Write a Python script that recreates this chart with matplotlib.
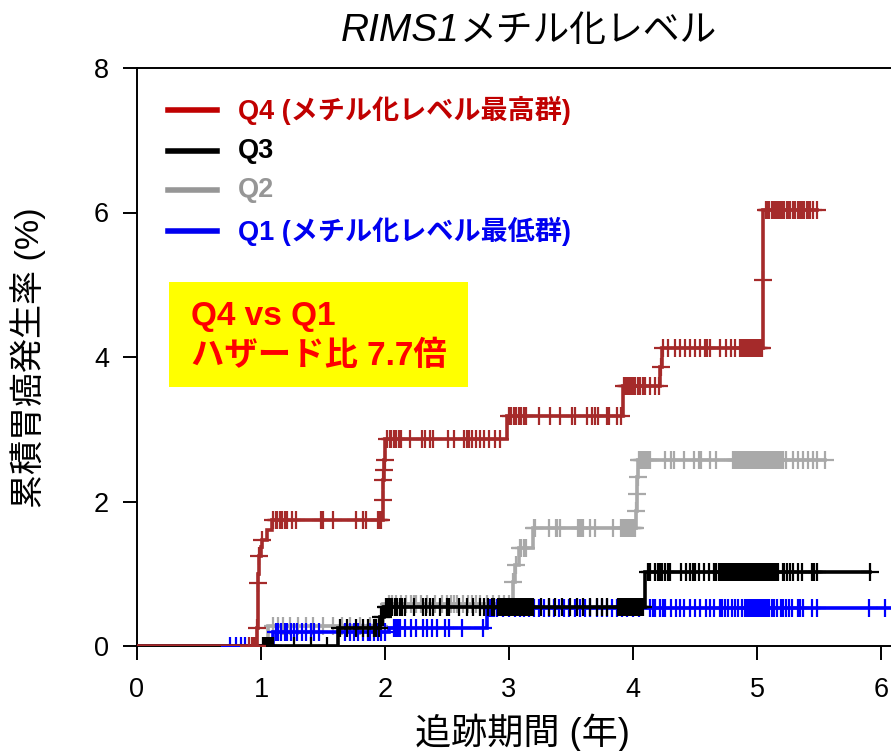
import numpy as np
import matplotlib
matplotlib.use("Agg")
import matplotlib.pyplot as plt
from matplotlib.patches import Rectangle

plt.rcParams['font.family'] = ['Liberation Sans', 'Noto Sans CJK JP', 'DejaVu Sans']

# ---------------- data ----------------
title_italic = "RIMS1"
title_rest = "メチル化レベル"
xlabel = "追跡期間 (年)"
ylabel = "累積胃癌発生率 (%)"
xticks = [0, 1, 2, 3, 4, 5, 6]
yticks = [0, 2, 4, 6, 8]
legend_labels = ["Q4 (メチル化レベル最高群)", "Q3", "Q2", "Q1 (メチル化レベル最低群)"]
box_lines = ["Q4 vs Q1", "ハザード比 7.7倍"]

# Q4 (highest)
q4_event_t = [0.970, 0.972, 0.975, 0.978, 0.980, 1.000, 1.010, 1.045, 1.090,
              1.980, 1.985, 1.990, 1.995, 2.000, 2.980, 3.920, 4.220, 4.230, 5.045, 5.050]
q4_event_y = [0.25, 0.50, 0.87, 1.00, 1.24, 1.37, 1.47, 1.60, 1.75,
              2.02, 2.30, 2.43, 2.57, 2.87, 3.18, 3.60, 3.86, 4.12, 5.07, 6.03]
q4_end = 5.48
q4_censor = [0.90, 0.925, 0.94, 0.95, 0.965, 0.971, 0.976, 0.981, 1.012,
             1.10, 1.12, 1.13, 1.15, 1.17, 1.19, 1.21, 1.25, 1.28, 1.48, 1.50, 1.58,
             1.77, 1.82, 1.85, 1.94, 1.95, 1.96, 1.97,
             1.982, 1.987, 1.992, 1.997,
             2.02, 2.04, 2.05, 2.07, 2.09, 2.11, 2.13, 2.20, 2.30, 2.32, 2.36, 2.39,
             2.51, 2.56, 2.64, 2.66, 2.68, 2.70, 2.73, 2.77, 2.80, 2.84, 2.89, 2.93,
             3.00, 3.02, 3.04, 3.06, 3.08, 3.10, 3.12, 3.14, 3.24, 3.33, 3.41, 3.51,
             3.53, 3.63, 3.67, 3.69, 3.72, 3.79, 3.81, 3.87, 3.90,
             3.93, 3.94, 3.95, 3.96, 3.97, 3.98, 3.99, 4.00, 4.01, 4.02, 4.04, 4.06,
             4.08, 4.10, 4.14, 4.18, 4.21, 4.222,
             4.24, 4.28, 4.34, 4.38, 4.42, 4.46, 4.50, 4.54, 4.58, 4.59, 4.60, 4.62,
             4.70, 4.75, 4.79, 4.82, 4.86, 4.87, 4.88, 4.89, 4.90, 4.91, 4.92, 4.93,
             4.94, 4.95, 4.96, 4.97, 4.98, 4.99, 5.00, 5.01, 5.02, 5.03, 5.04, 5.047,
             5.07, 5.08, 5.09, 5.10, 5.12, 5.14, 5.15, 5.16, 5.18, 5.19, 5.20, 5.22,
             5.24, 5.25, 5.27, 5.29, 5.31, 5.33, 5.35, 5.36, 5.38, 5.40, 5.41, 5.43,
             5.45, 5.48]

# Q3
q3_event_t = [1.62, 1.96, 1.99, 4.10]
q3_event_y = [0.25, 0.40, 0.54, 1.02]
q3_end = 5.91
q3_censor = [1.02, 1.03, 1.04, 1.05, 1.06, 1.07, 1.08, 1.10, 1.27, 1.40, 1.53,
             1.64, 1.69, 1.77, 1.82, 1.86, 1.91, 1.93, 1.95, 1.97, 1.98,
             2.01, 2.02, 2.03, 2.04, 2.05, 2.06, 2.08, 2.10, 2.12, 2.14, 2.16, 2.23,
             2.31, 2.33, 2.36, 2.39, 2.44, 2.50, 2.52, 2.60, 2.66, 2.71, 2.77, 2.80,
             2.83, 2.86, 2.88, 2.91, 2.93, 2.94, 2.95, 2.96, 2.97, 2.98, 2.99, 3.00,
             3.01, 3.02, 3.03, 3.04, 3.05, 3.06, 3.07, 3.08, 3.09, 3.10, 3.11, 3.12,
             3.13, 3.14, 3.15, 3.16, 3.17, 3.18, 3.19, 3.26, 3.32, 3.37, 3.43, 3.49,
             3.55, 3.60, 3.65, 3.71, 3.75, 3.79, 3.88, 3.89, 3.90, 3.91, 3.92, 3.93,
             3.94, 3.95, 3.96, 3.97, 3.98, 3.99, 4.00, 4.01, 4.02, 4.03, 4.04, 4.05,
             4.06, 4.07, 4.08,
             4.12, 4.14, 4.18, 4.20, 4.21, 4.22, 4.23, 4.26, 4.28, 4.30, 4.39, 4.43,
             4.46, 4.48, 4.50, 4.53, 4.57, 4.61, 4.65, 4.67, 4.69, 4.71, 4.72, 4.73,
             4.74, 4.75, 4.76, 4.77, 4.78, 4.79, 4.80, 4.81, 4.82, 4.83, 4.84, 4.85,
             4.86, 4.87, 4.88, 4.89, 4.90, 4.91, 4.92, 4.93, 4.94, 4.95, 4.96, 4.97,
             4.98, 4.99, 5.00, 5.01, 5.02, 5.03, 5.04, 5.05, 5.06, 5.07, 5.08, 5.09,
             5.10, 5.11, 5.12, 5.13, 5.14, 5.15, 5.17, 5.21, 5.22, 5.24, 5.27, 5.29,
             5.33, 5.36, 5.44, 5.45, 5.46, 5.48, 5.91]

# Q2
q2_event_t = [1.06, 1.98, 3.03, 3.05, 3.08, 3.19, 4.025, 4.03, 4.035, 4.04]
q2_event_y = [0.27, 0.58, 0.89, 1.12, 1.35, 1.63, 1.87, 2.10, 2.34, 2.57]
q2_end = 5.55
q2_censor = [1.10, 1.14, 1.18, 1.23, 1.30, 1.36, 1.42, 1.50, 1.58, 1.65, 1.72,
             1.80, 1.88, 1.95,
             2.03, 2.06, 2.09, 2.13, 2.17, 2.21, 2.23, 2.25, 2.29, 2.34, 2.40, 2.46,
             2.50, 2.53, 2.56, 2.58, 2.63, 2.67, 2.70, 2.73, 2.77, 2.82, 2.87, 2.92,
             2.96, 3.00, 3.032, 3.06, 3.09, 3.10, 3.12, 3.14,
             3.20, 3.21, 3.32, 3.38, 3.39, 3.41, 3.56, 3.57, 3.58, 3.60, 3.65, 3.69,
             3.84, 3.90, 3.91, 3.92, 3.93, 3.94, 3.95, 3.96, 3.97, 3.98, 3.99, 4.00,
             4.01, 4.02, 4.027, 4.032, 4.037,
             4.05, 4.06, 4.07, 4.08, 4.09, 4.10, 4.11, 4.12, 4.14, 4.26, 4.31, 4.33,
             4.41, 4.49, 4.53, 4.55, 4.62, 4.67, 4.81, 4.82, 4.83, 4.84, 4.85, 4.86,
             4.87, 4.88, 4.89, 4.90, 4.91, 4.92, 4.93, 4.94, 4.95, 4.96, 4.97, 4.98,
             4.99, 5.00, 5.01, 5.02, 5.03, 5.04, 5.05, 5.06, 5.07, 5.08, 5.09, 5.10,
             5.11, 5.12, 5.13, 5.14, 5.15, 5.16, 5.17, 5.18, 5.19, 5.20, 5.21, 5.23,
             5.29, 5.33, 5.37, 5.41, 5.45, 5.48, 5.55]

# Q1 (lowest)
q1_event_t = [1.10, 2.03, 2.82]
q1_event_y = [0.19, 0.25, 0.52]
q1_end = 6.15
q1_censor = [0.75, 0.80, 0.84, 0.87,
             1.12, 1.14, 1.16, 1.19, 1.21, 1.24, 1.27, 1.29, 1.33, 1.36, 1.40, 1.43,
             1.47, 1.68, 1.72, 1.75, 1.78, 1.82, 1.86, 1.88, 1.91, 1.94, 1.97, 2.00,
             2.07, 2.08, 2.09, 2.10, 2.11, 2.12, 2.16, 2.21, 2.25, 2.31, 2.34, 2.38,
             2.42, 2.48, 2.52, 2.62, 2.79,
             2.83, 2.85, 2.86, 2.88, 2.90, 2.95, 3.00, 3.05, 3.09, 3.12, 3.16, 3.20,
             3.24, 3.28, 3.32, 3.36, 3.40, 3.44, 3.48, 3.53, 3.57, 3.61, 3.65, 3.71,
             3.75, 3.79, 3.83, 3.87, 3.91, 3.95, 4.00, 4.05,
             4.14, 4.16, 4.18, 4.22, 4.24, 4.26, 4.31, 4.35, 4.38, 4.41, 4.46, 4.50,
             4.54, 4.59, 4.62, 4.65, 4.70, 4.72, 4.74, 4.77, 4.80, 4.82, 4.85, 4.88,
             4.90, 4.91, 4.92, 4.93, 4.94, 4.95, 4.96, 4.97, 4.98, 4.99, 5.00, 5.01,
             5.02, 5.03, 5.04, 5.05, 5.06, 5.07, 5.08, 5.09, 5.10, 5.12, 5.14, 5.16,
             5.19, 5.21, 5.23, 5.26, 5.28, 5.33, 5.34, 5.35, 5.37, 5.44, 5.48, 5.90,
             6.03]

# ---------------- styles ----------------
curve_colors = {"Q4": "#A52A2A", "Q3": "#000000", "Q2": "#A9A9A9", "Q1": "#0000FF"}
legend_colors = ["#C00000", "#000000", "#969696", "#0000F0"]

W, H = 891, 751
fig = plt.figure(figsize=(W / 100, H / 100), dpi=100)

x0_px, y0_px = 137, 646
px_per_year = 124.0
xmax = 6.3
ax = fig.add_axes([x0_px / W, (H - y0_px) / H, xmax * px_per_year / W, 578 / H])
ax.set_xlim(0, xmax)
ax.set_ylim(0, 8)


def draw_group(t, y, end, cens, color, z):
    t = np.asarray(t)
    y = np.asarray(y)
    xs = np.r_[0.0, t, end]
    ys = np.r_[0.0, y, y[-1]]
    ax.step(xs, ys, where='post', color=color, lw=2.6, zorder=z, solid_joinstyle='miter')
    c = np.asarray(cens)
    idx = np.searchsorted(t, c, side='right') - 1
    cy = np.where(idx >= 0, y[np.clip(idx, 0, None)], 0.0)
    ax.plot(c, cy, linestyle='none', marker='+', markersize=12.5, mew=1.6,
            color=color, zorder=z)


draw_group(q2_event_t, q2_event_y, q2_end, q2_censor, curve_colors["Q2"], 2)
draw_group(q1_event_t, q1_event_y, q1_end, q1_censor, curve_colors["Q1"], 3)
draw_group(q3_event_t, q3_event_y, q3_end, q3_censor, curve_colors["Q3"], 4)
draw_group(q4_event_t, q4_event_y, q4_end, q4_censor, curve_colors["Q4"], 5)

for s in ['left', 'bottom', 'top']:
    ax.spines[s].set_linewidth(1.4)
ax.spines['right'].set_visible(False)
ax.set_xticks(xticks)
ax.set_yticks(yticks)
ax.set_xticklabels([str(v) for v in xticks])
ax.set_yticklabels([str(v) for v in yticks])
ax.tick_params(axis='x', direction='out', length=10, width=1.4, labelsize=19.5, pad=12,
               top=False)
ax.tick_params(axis='y', direction='out', length=10, width=1.4, labelsize=19.5, pad=10,
               right=False)
for lab in ax.get_xticklabels() + ax.get_yticklabels():
    lab.set_fontfamily(['Liberation Sans'])

# axis labels
fig.text(28 / W, 1 - 358 / H, ylabel, rotation=90, ha='center', va='center', fontsize=24.5)
fig.text(522 / W, 1 - 733 / H, xlabel, ha='center', va='center', fontsize=26)

# title
fig.text(460 / W, 1 - 31 / H, title_italic, ha='right', va='center', fontsize=28,
         style='italic', family=['Liberation Sans'])
fig.text(460 / W, 1 - 31 / H, title_rest, ha='left', va='center', fontsize=26.5,
         family=['Noto Sans CJK JP'])

# legend
leg_y = [110, 151, 190, 231]
for lab, col, yy in zip(legend_labels, legend_colors, leg_y):
    fig.add_artist(plt.Line2D([168 / W, 217 / W], [1 - yy / H, 1 - yy / H],
                              color=col, lw=4.0, transform=fig.transFigure))
    fig.text(238 / W, 1 - yy / H, lab, ha='left', va='center', fontsize=19.5,
             fontweight='bold', color=col)

# hazard ratio box
fig.add_artist(Rectangle((169 / W, 1 - 387 / H), (468 - 169) / W, (387 - 282) / H,
                         transform=fig.transFigure, facecolor='#FFFF00',
                         edgecolor='none', zorder=10))
for line, yy in zip(box_lines, [316, 356]):
    fig.text(191 / W, 1 - yy / H, line, ha='left', va='center', fontsize=24,
             fontweight='bold', color='#FF0000', zorder=11)

fig.savefig("out.png", dpi=100)
